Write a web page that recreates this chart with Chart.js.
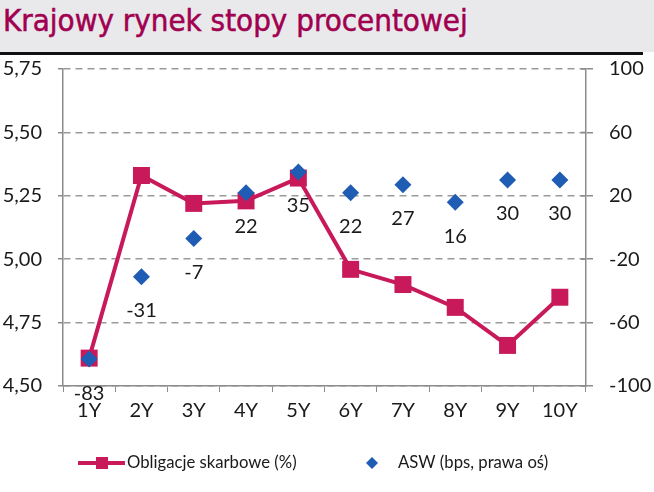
<!DOCTYPE html>
<html>
<head>
<meta charset="utf-8">
<script src="https://cdn.jsdelivr.net/npm/chart.js@4"></script>
<style>
  body { margin: 0; background: #fff; width: 654px; height: 492px; overflow: hidden; position: relative; }
  #header { position: absolute; left: 0; top: 0; width: 654px; height: 52px; background: #e9e9eb; }
  #title { position: absolute; left: 3px; top: 2px; margin: 0; font-family: "DejaVu Sans Condensed", "DejaVu Sans", sans-serif; font-weight: normal; font-size: 31px; color: #a0004f; white-space: nowrap; -webkit-text-stroke: 0.5px #a0004f; }
  #rule { position: absolute; left: 0; top: 52px; width: 643px; height: 3px; background: #111; }
  #wrap { position: absolute; left: 0; top: 41px; width: 654px; height: 451px; }
</style>
</head>
<body>
<div id="header"><h1 id="title">Krajowy rynek stopy procentowej</h1></div>
<div id="rule"></div>
<div id="wrap"><canvas id="chart"></canvas></div>
<script>
document.addEventListener('DOMContentLoaded', function() {
    // data
    const tenors = ['1Y', '2Y', '3Y', '4Y', '5Y', '6Y', '7Y', '8Y', '9Y', '10Y'];
    const bondYields = [4.61, 5.33, 5.22, 5.23, 5.32, 4.96, 4.90, 4.81, 4.66, 4.85];
    const aswSpread = [-83, -31, -7, 22, 35, 22, 27, 16, 30, 30];
    const leftTicks = [4.50, 4.75, 5.00, 5.25, 5.50, 5.75];
    const rightTicks = [-100, -60, -20, 20, 60, 100];

    const lineColor = '#c8195a';
    const dotColor = '#1f5cb4';
    const textColor = '#1a1a1a';
    const tickFont = { family: 'Lato, "Open Sans", sans-serif', size: 20 };

    // labels under the ASW diamonds
    const aswLabels = {
        id: 'aswLabels',
        afterDatasetsDraw(chart) {
            const ctx = chart.ctx;
            const meta = chart.getDatasetMeta(1);
            ctx.save();
            ctx.font = '20px Lato, "Open Sans", sans-serif';
            ctx.fillStyle = textColor;
            ctx.textAlign = 'center';
            ctx.textBaseline = 'middle';
            meta.data.forEach(function(pt, i) {
                ctx.fillText(String(aswSpread[i]), pt.x, pt.y + 34);
            });
            ctx.restore();
        }
    };

    // legend drawn at the bottom like the original
    const bottomLegend = {
        id: 'bottomLegend',
        afterDraw(chart) {
            const ctx = chart.ctx;
            const y = 422;
            ctx.save();
            ctx.strokeStyle = lineColor;
            ctx.lineWidth = 4;
            ctx.beginPath();
            ctx.moveTo(78, y);
            ctx.lineTo(125, y);
            ctx.stroke();
            ctx.fillStyle = lineColor;
            ctx.fillRect(96, y - 6, 12, 12);
            ctx.fillStyle = dotColor;
            ctx.beginPath();
            ctx.moveTo(372, y - 6);
            ctx.lineTo(378, y);
            ctx.lineTo(372, y + 6);
            ctx.lineTo(366, y);
            ctx.closePath();
            ctx.fill();
            ctx.font = '16.7px Lato, "Open Sans", sans-serif';
            ctx.fillStyle = textColor;
            ctx.textBaseline = 'middle';
            ctx.textAlign = 'left';
            ctx.fillText('Obligacje skarbowe (%)', 127, y);
            ctx.fillText('ASW (bps, prawa oś)', 398, y);
            ctx.restore();
        }
    };

    // right axis tick marks cross the axis line
    const crossTicks = {
        id: 'crossTicks',
        afterDraw(chart) {
            const ctx = chart.ctx;
            const s = chart.scales.y1;
            ctx.save();
            ctx.strokeStyle = '#8c8c8c';
            ctx.lineWidth = 1.5;
            rightTicks.forEach(function(v) {
                const py = s.getPixelForValue(v);
                ctx.beginPath();
                ctx.moveTo(s.left - 5, py);
                ctx.lineTo(s.left, py);
                ctx.stroke();
            });
            ctx.restore();
        }
    };

    new Chart(document.getElementById('chart'), {
        type: 'line',
        data: {
            labels: tenors,
            datasets: [{
                label: 'Obligacje skarbowe (%)',
                data: bondYields,
                yAxisID: 'y',
                borderColor: lineColor,
                backgroundColor: lineColor,
                borderWidth: 4,
                pointStyle: 'rect',
                pointRadius: 12,
                pointBorderWidth: 0,
                tension: 0,
                order: 1
            }, {
                label: 'ASW (bps, prawa oś)',
                data: aswSpread,
                yAxisID: 'y1',
                showLine: false,
                borderColor: dotColor,
                backgroundColor: dotColor,
                pointStyle: 'rectRot',
                pointRadius: 8.5,
                pointBorderWidth: 0,
                order: 0
            }]
        },
        options: {
            responsive: true,
            maintainAspectRatio: false,
            animation: false,
            layout: { padding: { top: 0, left: 0, right: 0, bottom: 66 } },
            scales: {
                x: {
                    offset: true,
                    afterFit: function(s) { s.height = 40; },
                    grid: { display: true, drawOnChartArea: false, drawTicks: true, tickLength: 6, offset: true, color: '#8c8c8c' },
                    border: { color: '#8c8c8c', width: 1.5 },
                    ticks: { color: textColor, font: tickFont, padding: 7, maxRotation: 0 }
                },
                y: {
                    position: 'left',
                    min: 4.5,
                    max: 5.75,
                    afterFit: function(s) { s.width = 63; },
                    afterBuildTicks: function(s) { s.ticks = leftTicks.map(v => ({ value: v })); },
                    grid: { color: '#9a9a9a', lineWidth: 1.5, tickLength: 5, tickColor: '#8c8c8c', tickBorderDash: [] },
                    border: { color: '#8c8c8c', width: 1.5, dash: [7, 5] },
                    ticks: {
                        color: textColor,
                        font: tickFont,
                        padding: 16,
                        callback: function(v) { return v.toFixed(2).replace('.', ','); }
                    }
                },
                y1: {
                    position: 'right',
                    min: -100,
                    max: 100,
                    afterFit: function(s) { s.width = 68; },
                    afterBuildTicks: function(s) { s.ticks = rightTicks.map(v => ({ value: v })); },
                    grid: { drawOnChartArea: false, tickLength: 7, color: '#8c8c8c', lineWidth: 1.5 },
                    border: { color: '#8c8c8c', width: 1.5 },
                    ticks: { color: textColor, font: tickFont, padding: 16 }
                }
            },
            plugins: {
                legend: { display: false },
                tooltip: { enabled: false }
            }
        },
        plugins: [aswLabels, bottomLegend, crossTicks]
    });
});
</script>
</body>
</html>
